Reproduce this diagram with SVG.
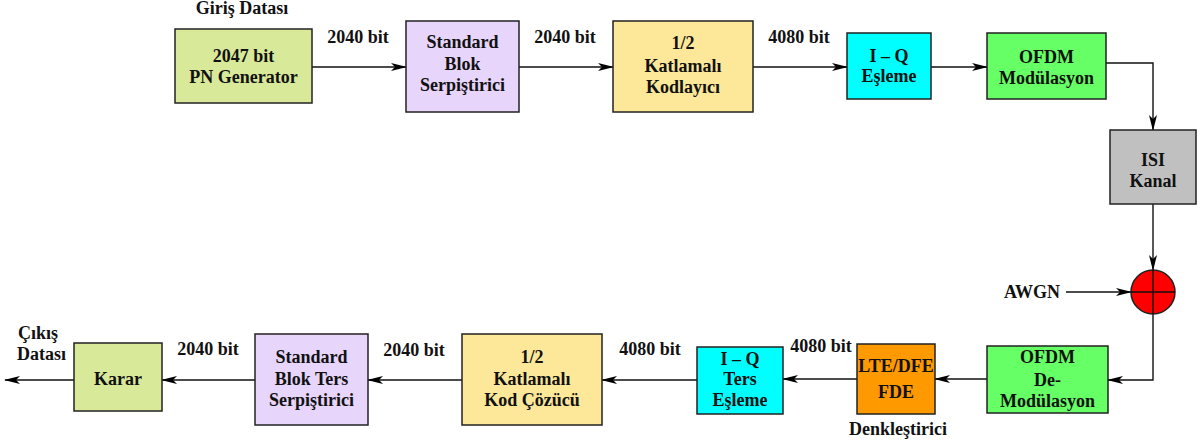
<svg xmlns="http://www.w3.org/2000/svg" width="1197" height="445" viewBox="0 0 1197 445">
<defs>
<marker id="ah" markerWidth="16" markerHeight="10" refX="15" refY="5" orient="auto" markerUnits="userSpaceOnUse">
<path d="M0,1 L16,5 L0,9 L4,5 Z" fill="#000"/>
</marker>
</defs>
<style>
.box{stroke:#222;stroke-width:1.5}
.t{font-family:"Liberation Serif","Times New Roman",serif;font-weight:bold;font-size:18px;fill:#111;text-anchor:middle}
.c{fill:none;stroke:#111;stroke-width:1.4;marker-end:url(#ah)}
</style>
<rect width="1197" height="445" fill="#fff"/>

<g id="connectors">
<path class="c" d="M312,67 H406"/>
<path class="c" d="M519,67 H613"/>
<path class="c" d="M753,67 H847"/>
<path class="c" d="M931,67 H987"/>
<path class="c" d="M1106,63 H1153 V130"/>
<path class="c" d="M1153,204 V270"/>
<path class="c" d="M1066,292 H1131"/>
<path class="c" d="M1153,314 V380 H1108"/>
<path class="c" d="M987,379 H935"/>
<path class="c" d="M857,379 H783"/>
<path class="c" d="M697,380 H602"/>
<path class="c" d="M462,380 H368"/>
<path class="c" d="M255,380 H162"/>
<path class="c" d="M74,380 H5"/>
</g>

<g id="labels">
<text class="t" x="242" y="14">Giriş Datası</text>
<text class="t" x="358" y="43">2040 bit</text>
<text class="t" x="565" y="43">2040 bit</text>
<text class="t" x="799" y="43">4080 bit</text>
<text class="t" x="1032" y="298">AWGN</text>
<text class="t" x="821" y="352">4080 bit</text>
<text class="t" x="650" y="355">4080 bit</text>
<text class="t" x="414" y="356">2040 bit</text>
<text class="t" x="208" y="355">2040 bit</text>
<text class="t" x="18" y="339" style="text-anchor:start">Çıkış</text>
<text class="t" x="17" y="360" style="text-anchor:start">Datası</text>
<text class="t" x="898" y="435">Denkleştirici</text>
</g>

<g id="pn">
<rect class="box" x="175" y="29" width="137" height="74" fill="#d9e99a"/>
<text class="t" x="243.5" y="62">2047 bit</text>
<text class="t" x="243.5" y="83">PN Generator</text>
</g>

<g id="interleaver">
<rect class="box" x="406" y="21" width="113" height="91" fill="#e8d5fb"/>
<text class="t" x="462.5" y="48">Standard</text>
<text class="t" x="462.5" y="70">Blok</text>
<text class="t" x="462.5" y="91">Serpiştirici</text>
</g>

<g id="encoder">
<rect class="box" x="613" y="21" width="140" height="91" fill="#fde89a"/>
<text class="t" x="683" y="49">1/2</text>
<text class="t" x="683" y="72">Katlamalı</text>
<text class="t" x="683" y="93">Kodlayıcı</text>
</g>

<g id="iqmap">
<rect class="box" x="847" y="33" width="84" height="66" fill="#00ffff"/>
<text class="t" x="889" y="62">I – Q</text>
<text class="t" x="889" y="82">Eşleme</text>
</g>

<g id="ofdmmod">
<rect class="box" x="987" y="33" width="119" height="66" fill="#66ff66"/>
<text class="t" x="1046.5" y="63">OFDM</text>
<text class="t" x="1046.5" y="84">Modülasyon</text>
</g>

<g id="isi">
<rect class="box" x="1110" y="130" width="86" height="74" fill="#c0c0c0"/>
<text class="t" x="1153" y="166">ISI</text>
<text class="t" x="1153" y="187">Kanal</text>
</g>

<g id="adder">
<circle cx="1153" cy="292" r="22" fill="#ff0000" stroke="#222" stroke-width="1.5"/>
<path d="M1131,292 H1175 M1153,270 V314" stroke="#111" stroke-width="1.4"/>
</g>

<g id="ofdmdemod">
<rect class="box" x="987" y="346" width="121" height="67" fill="#66ff66"/>
<text class="t" x="1047.5" y="363">OFDM</text>
<text class="t" x="1047.5" y="386">De-</text>
<text class="t" x="1047.5" y="407">Modülasyon</text>
</g>

<g id="equalizer">
<rect class="box" x="857" y="344" width="78" height="70" fill="#ff9900"/>
<text class="t" x="896" y="372">LTE/DFE</text>
<text class="t" x="896" y="398">FDE</text>
</g>

<g id="iqdemap">
<rect class="box" x="697" y="347" width="86" height="67" fill="#00ffff"/>
<text class="t" x="740" y="365">I – Q</text>
<text class="t" x="740" y="385">Ters</text>
<text class="t" x="740" y="406">Eşleme</text>
</g>

<g id="decoder">
<rect class="box" x="462" y="334" width="140" height="91" fill="#fde89a"/>
<text class="t" x="532" y="363">1/2</text>
<text class="t" x="532" y="385">Katlamalı</text>
<text class="t" x="532" y="406">Kod Çözücü</text>
</g>

<g id="deinterleaver">
<rect class="box" x="255" y="334" width="113" height="91" fill="#e8d5fb"/>
<text class="t" x="311.5" y="363">Standard</text>
<text class="t" x="311.5" y="385">Blok Ters</text>
<text class="t" x="311.5" y="406">Serpiştirici</text>
</g>

<g id="karar">
<rect class="box" x="74" y="343" width="88" height="68" fill="#d9e99a"/>
<text class="t" x="118" y="385">Karar</text>
</g>
</svg>
